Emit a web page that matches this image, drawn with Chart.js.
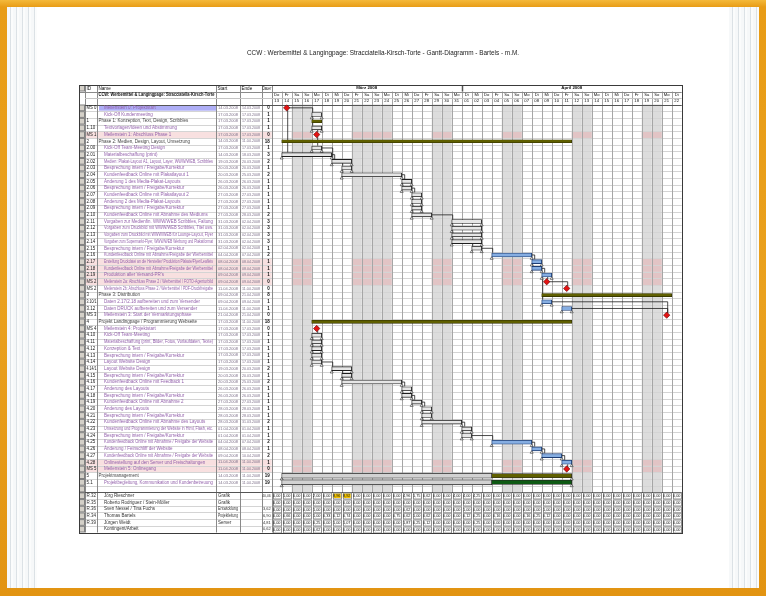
<!DOCTYPE html>
<html>
<head>
<meta charset="utf-8">
<script src="https://cdn.jsdelivr.net/npm/chart.js@4.4.1/dist/chart.umd.min.js"></script>
<style>
html, body { margin: 0; padding: 0; width: 766px; height: 596px; overflow: hidden; }
#frame { position: absolute; left: 0; top: 0; width: 766px; height: 596px;
  background: linear-gradient(180deg, #f4b93a 0, #e89c16 7px, #eaa11e 50%, #e29412 100%); }
.edge { position: absolute; top: 7px; width: 30px; height: 581px;
  background: repeating-linear-gradient(90deg, #f6f8f9 0, #f6f8f9 3px, #d3dadf 3px, #e4e9ec 4px, #fbfcfc 4px, #fbfcfc 6px); }
#edgeL { left: 7px; }
#edgeR { left: 729px; }
#page { position: absolute; left: 37px; top: 7px; width: 692px; height: 581px; background: #fff; }
canvas { position: absolute; left: 0; top: 0; }
</style>
</head>
<body>
<div id="frame"></div>
<div class="edge" id="edgeL"></div>
<div class="edge" id="edgeR"></div>
<div id="page"></div>
<canvas id="gantt" width="766" height="596"></canvas>
<script>
const chartTitle = 'CCW : Werbemittel & Langingpage: Stracciatella-Kirsch-Torte - Gantt-Diagramm - Bartels - m.M.';
const projectName = 'CCW: Werbemittel & Langingpage: Stracciatella-Kirsch-Torte';

// day 0 = Do 13.03.2008, last day = Di 22.04.2008
const dayCount = 41;
const holidays = [8, 11];          // Karfreitag, Ostermontag
const monthLabels = ['März 2008', 'April 2008'];
const monthStarts = [0, 19, 41];
const statusDay = 22;

const ids = ['MS 0', '', '1', '1.10', 'MS 1', '2', '2.00', '2.01', '2.02', '2.03',
  '2.04', '2.05', '2.06', '2.07', '2.08', '2.09', '2.10', '2.11', '2.12', '2.13',
  '2.14', '2.15', '2.16', '2.17', '2.18', '2.19', 'MS 2', 'MS 2', '3', '3.10/1',
  '3.12', 'MS 3', '4', 'MS 4', '4.10', '4.11', '4.12', '4.13', '4.14', '4.14/1',
  '4.15', '4.16', '4.17', '4.18', '4.19', '4.20', '4.21', '4.22', '4.23', '4.24',
  '4.25', '4.26', '4.27', '4.28', 'MS 5', '5', '5.1', ''];

const names = ['Meilenstein 0: Projektstart', 'Kick-Off Kundenmeeting',
  'Phase 1: Konzeption, Text, Design, Scribbles', 'Textvorlagen/Ideen und Abstimmung',
  'Meilenstein 1: Abschluss Phase 1', 'Phase 2: Medien, Design, Layout, Umsetzung',
  'Kick-Off Team-Meeting Design', 'Materialbeschaffung (print)',
  'Medien: Plakat-Layout A1, Layout, Layer, WWW/WEB, Scribbles',
  'Besprechung intern / Freigabe/Korrektur', 'Kundenfeedback Online mit Plakatlayout 1',
  'Änderung 1 des Media-Plakat-Layouts', 'Besprechung intern / Freigabe/Korrektur',
  'Kundenfeedback Online mit Plakatlayout 2', 'Änderung 2 des Media-Plakat-Layouts',
  'Besprechung intern / Freigabe/Korrektur', 'Kundenfeedback Online mit Abnahme des Mediums',
  'Vorgaben zur Medienfin. WWW/WEB Scribbles, Faltung',
  'Vorgaben zum Druckbild mit WWW/WEB Scribbles, Titel usw.',
  'Vorgaben zum Druckbild mit WWW/WEB für Lounge-Layout, Flyer',
  'Vorgaben zum Supermarkt-Flyer, WWW/WEB Werbung und Plakatformat',
  'Besprechung intern / Freigabe/Korrektur',
  'Kundenfeedback Online mit Abnahme/Freigabe der Werbemittel',
  'Erstellung Druckdatei an die Hersteller/ Produktion Plakate/Flyer/Leaflets',
  'Kundenfeedback Online mit Abnahme/Freigabe der Werbemittel',
  'Produktion aller Versand-PR\'s',
  'Meilenstein 2a: Abschluss Phase 2 / Werbemittel / FOTO-Agenturbild',
  'Meilenstein 2b: Abschluss Phase 2 / Werbemittel / PDF-Druckfreigabe',
  'Phase 3: Distribution', 'Daten 2.17/2.18 aufbereiten und zum Versender',
  'Daten DRUCK aufbereiten und zum Versender', 'Meilenstein 3: Start der Vermarktungsphase',
  'Projekt Landingpage / Programmierung Webseite', 'Meilenstein 4: Projektstart',
  'Kick-Off Team-Meeting', 'Materialbeschaffung (print, Bilder, Fotos, Vorlaufdaten, Texte)',
  'Konzeption & Text', 'Besprechung intern / Freigabe/Korrektur', 'Layout Website Design',
  'Layout Website Design', 'Besprechung intern / Freigabe/Korrektur',
  'Kundenfeedback Online mit Feedback 1', 'Änderung des Layouts',
  'Besprechung intern / Freigabe/Korrektur', 'Kundenfeedback Online mit Abnahme 2',
  'Änderung des Layouts', 'Besprechung intern / Freigabe/Korrektur',
  'Kundenfeedback Online mit Abnahme des Layouts',
  'Umsetzung und Programmierung der Website in Html, Flash, etc.',
  'Besprechung intern / Freigabe/Korrektur',
  'Kundenfeedback Online mit Abnahme / Freigabe der Website',
  'Änderung / Feinschliff der Website',
  'Kundenfeedback Online mit Abnahme / Freigabe der Website',
  'Onlinestellung auf den Server und Freischaltungen', 'Meilenstein 5: Onlinegang',
  'Projektmanagement', 'Projektbegleitung, Kommunikation und Kundenbetreuung', ''];

const kinds = ['ms', 'task', 'sum', 'task', 'ms', 'sum', 'task', 'task', 'task', 'task',
  'task', 'task', 'task', 'task', 'task', 'task', 'task', 'task', 'task', 'task',
  'task', 'task', 'crit', 'crit', 'crit', 'crit', 'ms', 'ms', 'sum', 'crit',
  'crit', 'ms', 'sum', 'ms', 'task', 'task', 'task', 'task', 'task', 'task',
  'task', 'task', 'task', 'task', 'task', 'task', 'task', 'task', 'task', 'task',
  'crit', 'crit', 'crit', 'crit', 'ms', 'sumprog', 'taskprog', ''];

const barStart = [1.5, 4, 4, 4, 4.5, 1, 4, 1, 6, 7,
  7, 13, 13, 14, 14, 14, 14, 18, 18, 18,
  18, 20, 22, 26, 26, 27, 27.5, 29.5, 27, 27,
  29, 39.5, 4, 4.5, 4, 4, 4, 4, 4, 6,
  7, 7, 13, 13, 14, 15, 15, 15, 19, 19,
  22, 26, 27, 29, 29.5, 1, 1, null];

const barEnd = [null, 5, 5, 5, null, 30, 5, 6, 8, 8,
  13, 14, 14, 15, 15, 15, 16, 21, 21, 21,
  21, 21, 26, 27, 27, 28, null, null, 40, 28,
  30, null, 30, null, 5, 5, 5, 5, 5, 8,
  8, 13, 14, 14, 15, 16, 16, 19, 20, 20,
  26, 27, 29, 30, null, 30, 30, null];

const durations = [0, 1, 1, 1, 0, 18, 1, 3, 2, 1,
  2, 1, 1, 1, 1, 1, 2, 3, 3, 3,
  3, 1, 2, 1, 1, 1, 0, 0, 8, 1,
  1, 0, 18, 0, 1, 1, 1, 1, 1, 2,
  1, 2, 1, 1, 1, 1, 1, 2, 1, 1,
  2, 1, 2, 1, 0, 19, 19, null];

const pinkRows = [4, 23, 24, 25, 26, 53, 54];
const selectedRow = 0;

const links = [[0, 1], [0, 7], [1, 3], [3, 4], [4, 6], [6, 8], [7, 8], [8, 9], [9, 10],
  [10, 11], [11, 12], [12, 13], [13, 14], [14, 15], [15, 16], [16, 17], [17, 18],
  [18, 19], [19, 20], [20, 21], [21, 22], [22, 23], [23, 24], [24, 25], [25, 26],
  [25, 29], [26, 27], [29, 31], [30, 31], [33, 34], [34, 35], [35, 36], [36, 37],
  [37, 38], [38, 39], [39, 40], [40, 41], [41, 42], [42, 43], [43, 44], [44, 45],
  [45, 46], [46, 47], [47, 48], [48, 49], [49, 50], [50, 51], [51, 52], [52, 53], [53, 54]];

// Ressourcen (Arbeit je Tag)
const resIds = ['R.32', 'R.35', 'R.36', 'R.34', 'R.39', ''];
const resNames = ['Jörg Rieschner', 'Roberto Rodriguez / Stein-Möller', 'Sven Nessel / Tina Fuchs',
  'Thomas Bartels', 'Jürgen Weidt', 'Kontingent/Arbeit'];
const resGroups = ['Grafik', 'Grafik', 'Entwicklung', 'Projektleitung', 'Server', ''];
const resR32 = [0, 1, 0, 0, 2, 0, 8.96, 8.92, 0, 0, 0, 0, 0, 4.96, 1.75, 0.62, 0, 0, 4, 4,
  4.25, 0, 0, 0, 0, 0, 0, 0, 0, 0, 0, 0, 0, 0, 0, 0, 0, 0, 0, 0, 0];
const resR35 = [0, 0, 0, 0, 0, 0, 0, 0, 0, 0, 0, 0, 0, 0, 0, 0, 0, 0, 0, 0,
  0, 0, 0, 0, 0, 0, 0, 0, 0, 0, 0, 0, 0, 0, 0, 0, 0, 0, 0, 0, 0];
const resR36 = [0, 0, 0, 0, 1, 0, 0, 0, 0, 0, 0, 0, 0, 0.62, 0, 0, 0, 0, 0, 1,
  0, 0, 0, 0, 0, 0, 0, 1, 0, 0, 0, 0, 0, 0, 0, 0, 0, 0, 0, 0, 0];
const resR34 = [0, 0.66, 0, 0, 1, 0.33, 0.12, 0.74, 0, 0, 0, 0, 0.75, 0.62, 1, 0.62, 0, 0, 0, 0.12,
  0.25, 0, 0.16, 0, 0, 0.16, 0.25, 0.12, 0, 0, 0, 0, 0, 0, 0, 0, 0, 0, 0, 0, 0];
const resR39 = [0, 0, 0, 0, 0.25, 0, 1, 1.07, 0, 0, 0, 0, 0, 1.87, 0.25, 0.12, 0, 0, 0, 0,
  0.25, 0, 0, 0, 0, 0, 0, 0, 0, 0, 0, 0, 0, 0, 0, 0, 0, 0, 0, 0, 0];
const resSum = [0, 0, 0, 0, 0.62, 0, 0, 0, 0, 0, 0, 0, 0, 0, 0, 0, 0, 0, 0, 0,
  0, 0, 0, 0, 0, 0, 0, 0, 0, 0, 0, 0, 0, 0, 0, 0, 0, 0, 0, 0, 0];
const resWork = [resR32, resR35, resR36, resR34, resR39, resSum];

const rowCount = ids.length + resIds.length;

const wdNames = ['So', 'Mo', 'Di', 'Mi', 'Do', 'Fr', 'Sa'];
const dayDate = d => new Date(2008, 2, 13 + Math.floor(d));
const pad = n => String(n).padStart(2, '0');
const dateText = d => { const t = dayDate(d); return pad(t.getDate()) + '.' + pad(t.getMonth() + 1) + '.' + t.getFullYear(); };
const fmt = v => v.toFixed(2).replace('.', ',');
const isOff = d => { const w = dayDate(d).getDay(); return w === 0 || w === 6 || holidays.includes(d); };

// bars
const taskBars = [], critBars = [], sumBars = [], doneBars = [], restBars = [], msPoints = [], marks = [];
kinds.forEach((k, i) => {
  const y = i + 0.5, s = barStart[i], e = barEnd[i];
  if (k === 'task') taskBars.push({ x: [s, e], y });
  if (k === 'crit') critBars.push({ x: [s, e], y });
  if (k === 'sum') sumBars.push({ x: [s, e], y });
  if (k === 'sumprog' || k === 'taskprog') {
    doneBars.push({ x: [s, statusDay], y });
    restBars.push({ x: [statusDay, e], y, c: k === 'sumprog' ? '#5f5f00' : '#0e5a14' });
  }
  if (k === 'ms') msPoints.push({ x: s, y });
  if (k === 'task' || k === 'crit' || k === 'sumprog' || k === 'taskprog') {
    marks.push({ x: s, y: i + 1.02 }, { x: e, y: i + 1.02 });
  }
});

const font = (s, b) => (b ? 'bold ' : '') + s + 'px "Liberation Sans", Arial, sans-serif';

const tableAndGrid = {
  id: 'tableAndGrid',
  beforeDatasetsDraw(chart) {
    const { ctx, scales: { x, y } } = chart;
    const px = d => x.getPixelForValue(d);
    const rowTop = i => y.getPixelForValue(i);
    const rowMid = i => y.getPixelForValue(i + 0.5);
    const gL = px(0), gR = px(dayCount);
    const hTop = 85, h1 = 91.5, h2 = 98, bTop = rowTop(0);
    const taskEnd = rowTop(ids.length), bottom = rowTop(rowCount);
    const cols = [79, 85, 97, 216, 240, 262, gL];
    const line = (x1, y1, x2, y2) => { ctx.beginPath(); ctx.moveTo(x1, y1); ctx.lineTo(x2, y2); ctx.stroke(); };
    const r5 = v => Math.round(v) + 0.5;

    ctx.save();
    ctx.textBaseline = 'middle';

    ctx.fillStyle = '#1a1a1a';
    ctx.font = font(7.2);
    ctx.textAlign = 'center';
    ctx.fillText(chartTitle, 383, 53.5, 272);

    // non-working days
    ctx.fillStyle = '#dcdcdc';
    for (let d = 0; d < dayCount; d++) if (isOff(d)) ctx.fillRect(px(d), bTop, px(d + 1) - px(d), taskEnd - bTop);

    pinkRows.forEach(r => {
      const t = rowTop(r), h = rowTop(r + 1) - t;
      ctx.fillStyle = '#f8e0e0';
      ctx.fillRect(cols[1], t, cols[6] - cols[1], h);
      ctx.fillStyle = '#e2c4c5';
      for (let d = 0; d < dayCount; d++) if (isOff(d)) ctx.fillRect(px(d), t, px(d + 1) - px(d), h);
    });
    ctx.fillStyle = '#aeaef6';
    ctx.fillRect(cols[2] + 2, rowTop(selectedRow) + 0.5, cols[3] - cols[2] - 2, rowTop(selectedRow + 1) - rowTop(selectedRow) - 1);

    // row lines
    ctx.lineWidth = 1;
    for (let i = 0; i <= rowCount; i++) {
      const yy = r5(rowTop(i));
      ctx.strokeStyle = '#d4d4d4';
      line(cols[1], yy, i <= ids.length ? gR : gL, yy);
    }
    // day lines
    ctx.strokeStyle = '#a6a6a6';
    for (let d = 0; d <= dayCount; d++) line(r5(px(d)), h1, r5(px(d)), taskEnd);
    // table column lines
    ctx.strokeStyle = '#8a8a8a';
    cols.forEach(c => line(r5(c), hTop, r5(c), bottom));
    // header lines
    ctx.strokeStyle = '#8a8a8a';
    line(cols[0], r5(h1), gR, r5(h1));
    ctx.strokeStyle = '#c4c4c4';
    line(cols[1], r5(h2), gR, r5(h2));
    ctx.strokeStyle = '#555';
    line(cols[0], r5(bTop), gR, r5(bTop));
    line(cols[0], r5(taskEnd), gR, r5(taskEnd));
    ctx.lineWidth = 1.5;
    line(r5(px(monthStarts[1])), hTop, r5(px(monthStarts[1])), h1);
    ctx.lineWidth = 1;

    // row header buttons
    const btn = (t, b) => {
      ctx.fillStyle = '#d4d0c8';
      ctx.fillRect(cols[0] + 0.5, t + 0.5, cols[1] - cols[0] - 1, b - t - 1);
      ctx.strokeStyle = '#808080';
      ctx.strokeRect(cols[0] + 0.5, t + 0.5, cols[1] - cols[0] - 1, b - t - 1);
    };
    btn(hTop, h1);
    for (let i = 0; i < rowCount; i++) btn(rowTop(i), rowTop(i + 1));

    // header text
    ctx.fillStyle = '#111';
    ctx.textAlign = 'left';
    ctx.font = font(4.6);
    ctx.fillText('ID', cols[1] + 1.5, (hTop + h1) / 2);
    ctx.fillText('Name', cols[2] + 1.5, (hTop + h1) / 2);
    ctx.fillText('Start', cols[3] + 1.5, (hTop + h1) / 2);
    ctx.fillText('Ende', cols[4] + 1.5, (hTop + h1) / 2);
    ctx.fillText('Dauer', cols[5] + 0.5, (hTop + h1) / 2, cols[6] - cols[5] - 1);
    ctx.font = font(4.6, true);
    ctx.fillText(projectName, cols[2] + 1.5, (h1 + h2) / 2, cols[3] - cols[2] - 3);

    ctx.textAlign = 'center';
    ctx.font = font(4.4, true);
    monthLabels.forEach((m, k) => ctx.fillText(m, (px(monthStarts[k]) + px(monthStarts[k + 1])) / 2, (hTop + h1) / 2));
    ctx.font = font(4.2);
    for (let d = 0; d < dayCount; d++) {
      const cx = (px(d) + px(d + 1)) / 2;
      ctx.fillText(wdNames[dayDate(d).getDay()], cx, (h1 + h2) / 2);
      ctx.fillText(pad(dayDate(d).getDate()), cx, (h2 + bTop) / 2);
    }

    // task rows text
    ids.forEach((id, i) => {
      const cy = rowMid(i);
      const phase = kinds[i] === 'sum' || kinds[i] === 'sumprog';
      ctx.textAlign = 'left';
      ctx.font = font(4.5);
      ctx.fillStyle = '#222';
      ctx.fillText(id, cols[1] + 1.5, cy, cols[2] - cols[1] - 2);
      if (names[i]) {
        const ind = phase ? 1.5 : 7;
        ctx.fillStyle = phase ? '#444' : '#9361ab';
        ctx.fillText(names[i], cols[2] + ind, cy, cols[3] - cols[2] - ind - 3);
      }
      if (barStart[i] !== null) {
        ctx.fillStyle = '#7d7089';
        ctx.font = font(4.2);
        const last = barEnd[i] === null ? barStart[i] : barEnd[i] - 1;
        ctx.fillText(dateText(barStart[i]), cols[3] + 2, cy, cols[4] - cols[3] - 4);
        ctx.fillText(dateText(last), cols[4] + 2, cy, cols[5] - cols[4] - 4);
      }
      if (durations[i] !== null) {
        ctx.textAlign = 'right';
        ctx.fillStyle = '#111';
        ctx.font = font(4.5, true);
        ctx.fillText(String(durations[i]), cols[6] - 2, cy);
      }
    });

    // resource rows
    resIds.forEach((rid, r) => {
      const i = ids.length + r, t = rowTop(i), b = rowTop(i + 1), cy = (t + b) / 2;
      ctx.textAlign = 'left';
      ctx.fillStyle = '#333';
      ctx.font = font(4.5);
      ctx.fillText(rid, cols[1] + 1.5, cy);
      ctx.fillText(resNames[r], cols[2] + 7, cy, cols[3] - cols[2] - 10);
      ctx.fillText(resGroups[r], cols[3] + 2, cy, cols[4] - cols[3] - 4);
      const total = resWork[r].reduce((a, v) => a + v, 0);
      ctx.textAlign = 'right';
      ctx.font = font(4);
      if (total > 0) ctx.fillText(fmt(total), cols[6] - 1, cy, cols[6] - cols[5] - 1);
      ctx.textAlign = 'center';
      resWork[r].forEach((v, d) => {
        const l = px(d), w = px(d + 1) - l;
        if (v > 8) { ctx.fillStyle = '#f3c300'; ctx.fillRect(l + 1, t + 1, w - 2, b - t - 2); }
        ctx.strokeStyle = '#8f8f8f';
        ctx.strokeRect(r5(l) + 1, r5(t) + 0.5, Math.round(w) - 2, Math.round(b - t) - 1);
        ctx.fillStyle = '#111';
        ctx.fillText(fmt(v), l + w / 2, cy + 0.3, w - 2.5);
      });
    });

    // outer border
    ctx.strokeStyle = '#3a3a3a';
    ctx.strokeRect(r5(cols[0]), r5(hTop), Math.round(gR - cols[0]), Math.round(bottom - hTop));

    // dependency lines
    ctx.strokeStyle = '#1e1e1e';
    ctx.lineWidth = 0.8;
    links.forEach(([a, b]) => {
      const aS = barStart[a], aE = barEnd[a] === null ? barStart[a] : barEnd[a];
      const bS = barStart[b];
      const ya = rowMid(a), yb = rowMid(b) - 2.3;
      if (bS >= aE - 0.01) {
        const xa = px(aE), xb = Math.max(px(bS) + 1, xa + 3);
        ctx.beginPath(); ctx.moveTo(xa, ya); ctx.lineTo(xb, ya); ctx.lineTo(xb, yb); ctx.stroke();
      } else {
        const xb = px(Math.max(bS, aS)) + 1;
        line(xb, ya + 2, xb, yb);
      }
    });
    ctx.restore();
  }
};

new Chart(document.getElementById('gantt'), {
  type: 'bar',
  data: {
    datasets: [
      { label: 'Zusammenfassung', data: sumBars, grouped: false, barThickness: 3,
        backgroundColor: '#5f5f00', borderColor: '#2e2e00', borderWidth: 0.6, borderSkipped: false },
      { label: 'Erledigt', data: doneBars, grouped: false, barThickness: 5,
        backgroundColor: '#d2d2d2', borderColor: '#2a2a2a', borderWidth: 0.8, borderSkipped: false },
      { label: 'Rest', data: restBars, grouped: false, barThickness: 4,
        backgroundColor: ctx => ctx.raw ? ctx.raw.c : '#5f5f00', borderColor: '#222', borderWidth: 0.6, borderSkipped: false },
      { label: 'Vorgang', data: taskBars, grouped: false, barThickness: 4,
        backgroundColor: '#e6e6e6', borderColor: '#1e1e1e', borderWidth: 0.9, borderSkipped: false },
      { label: 'Kritisch', data: critBars, grouped: false, barThickness: 4,
        backgroundColor: '#86aee2', borderColor: '#1d3c72', borderWidth: 0.9, borderSkipped: false },
      { type: 'scatter', label: 'Markierung', data: marks, pointStyle: 'triangle', pointRadius: 1.7,
        backgroundColor: '#ffffff', borderColor: '#444', borderWidth: 0.7 },
      { type: 'scatter', label: 'Meilenstein', data: msPoints, pointStyle: 'rectRot', pointRadius: 3.2,
        backgroundColor: '#e31414', borderColor: '#5a0000', borderWidth: 0.6 }
    ]
  },
  options: {
    indexAxis: 'y',
    responsive: false,
    animation: false,
    events: [],
    layout: { padding: { left: 271.7, right: 84.3, top: 104.5, bottom: 63.5 } },
    scales: {
      x: { type: 'linear', min: 0, max: dayCount, display: false },
      y: { type: 'linear', min: 0, max: rowCount, reverse: true, offset: false, display: false }
    },
    plugins: { legend: { display: false }, tooltip: { enabled: false } }
  },
  plugins: [tableAndGrid]
});
</script>
</body>
</html>
